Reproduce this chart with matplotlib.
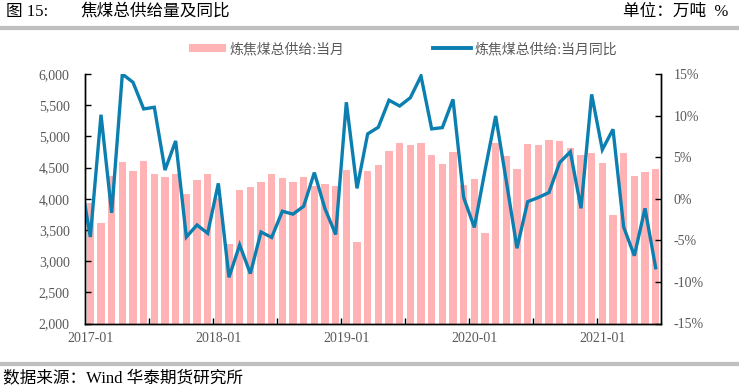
import pandas as pd
import matplotlib
matplotlib.use('Agg')
import matplotlib.pyplot as plt
from matplotlib.lines import Line2D
from matplotlib.patches import Patch

plt.rcParams['font.family'] = ['Liberation Serif', 'Noto Sans CJK SC', 'DejaVu Sans']

# monthly data 2017-01 .. 2021-06
months = pd.date_range('2017-01-01', '2021-06-01', freq='MS').strftime('%Y-%m').tolist()
supply = [3931, 3609, 4371, 4590, 4440, 4612, 4392, 4349, 4392, 4070, 4296, 4397,
          4010, 3275, 4135, 4183, 4263, 4392, 4328, 4269, 4344, 4204, 4242, 4210,
          4467, 3310, 4451, 4542, 4773, 4890, 4858, 4901, 4709, 4553, 4757, 4215,
          4312, 3454, 4901, 4681, 4484, 4874, 4858, 4939, 4918, 4815, 4703, 4741,
          4569, 3744, 4735, 4360, 4435, 4472]
# yoy starts at 2016-12 (only partly visible at the left edge)
yoy = [3.0,
       -4.6, 10.1, -1.7, 15.0, 14.0, 10.8, 11.0, 3.45, 6.95, -4.6, -3.15, -4.15,
       1.85, -9.45, -5.55, -9.0, -4.0, -4.65, -1.5, -1.85, -0.9, 3.15, -1.2, -4.3,
       11.6, 1.25, 7.8, 8.6, 11.85, 11.15, 12.15, 14.75, 8.4, 8.55, 11.95, 0.15,
       -3.45, 3.4, 9.95, 2.1, -5.95, -0.35, 0.15, 0.75, 4.35, 5.65, -1.15, 12.55,
       5.9, 8.35, -3.4, -6.85, -1.15, -8.3]

bar_label = '炼焦煤总供给:当月'
line_label = '炼焦煤总供给:当月同比'
bar_color = '#FFB3B5'
line_color = '#0C7FB1'
tick_color = '#595959'

fig = plt.figure(figsize=(7.39, 3.90), dpi=100)
ax = fig.add_axes([85 / 739, 1 - 323.5 / 390, 576 / 739, 249.5 / 390])

x = list(range(len(supply)))
ax.bar(x, supply, width=0.66, color=bar_color, zorder=1)
ax.set_ylim(2000, 6000)
ax.set_xlim(-0.5, len(supply) - 0.5)
ax.set_yticks(range(2000, 6001, 500))
ax.set_yticklabels([f'{v:,}' for v in range(2000, 6001, 500)])

ax2 = ax.twinx()
ax2.plot(range(-1, len(supply)), yoy, color=line_color, lw=2.4, solid_joinstyle='miter')
ax2.set_ylim(-15, 15)
ax2.set_yticks(range(-15, 16, 5))
ax2.set_yticklabels([f'{v}%' for v in range(-15, 16, 5)])
ax2.set_xlim(-0.5, len(supply) - 0.5)

# ticks at slot edges every 6 months, labels at slot centres every year
ax.set_xticks([i - 0.5 for i in range(6, len(supply), 6)])
ax.set_xticklabels([])
lab_idx = list(range(0, len(supply), 12))
ax.set_xticks(lab_idx, minor=True)
ax.set_xticklabels([months[i] for i in lab_idx], minor=True)
ax.tick_params(axis='x', which='major', direction='in', length=4, width=1)
ax.tick_params(axis='x', which='minor', length=0, pad=6, labelsize=10, labelcolor=tick_color)
ax.tick_params(axis='y', direction='in', length=4, width=1, pad=11, labelsize=10, labelcolor=tick_color)
ax2.tick_params(axis='y', direction='in', length=4, width=1, pad=9, labelsize=10, labelcolor=tick_color)

for a in (ax, ax2):
    a.spines['top'].set_visible(False)
    for s in ('left', 'right', 'bottom'):
        a.spines[s].set_linewidth(1)

handles = [Patch(facecolor=bar_color, edgecolor='none'),
           Line2D([0], [0], color=line_color, lw=2.8)]
fig.legend(handles, [bar_label, line_label], loc='center', bbox_to_anchor=(0.545, 0.874),
           ncol=2, frameon=False, fontsize=10, handlelength=2.7, handletextpad=0.25,
           columnspacing=6.4, handleheight=0.55, labelcolor=tick_color)

# header and footer
fig.text(6 / 739, 1 - 12 / 390, '图 15:', fontsize=12, va='center', ha='left')
fig.text(80 / 739, 1 - 12 / 390, '焦煤总供给量及同比', fontsize=12, va='center', ha='left')
fig.text(728 / 739, 1 - 12 / 390, '单位：万吨  %', fontsize=12, va='center', ha='right')
fig.add_artist(Line2D([2 / 739, 737 / 739], [1 - 28 / 390, 1 - 28 / 390], color='#C0C0C0', lw=3))
fig.add_artist(Line2D([2 / 739, 737 / 739], [1 - 364 / 390, 1 - 364 / 390], color='#C0C0C0', lw=3))
fig.text(3 / 739, 1 - 378 / 390, '数据来源：Wind 华泰期货研究所', fontsize=12, va='center', ha='left')

fig.savefig('out.png', dpi=100)
